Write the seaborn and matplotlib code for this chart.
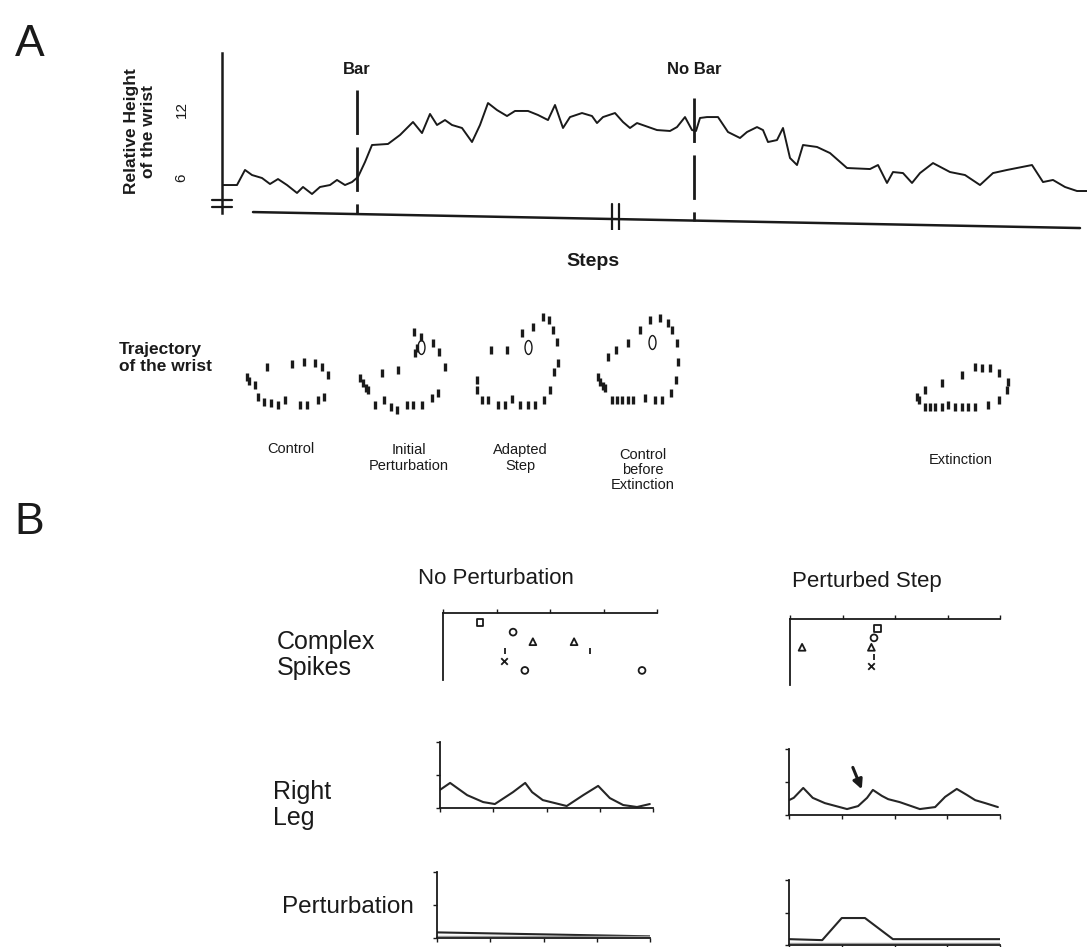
import numpy as np
import matplotlib
matplotlib.use("Agg")
import matplotlib.pyplot as plt
import matplotlib.transforms as mt
from matplotlib.path import Path
import seaborn as sns

# ---------------- data ----------------
# Panel A: wrist height across steps
steps = [0, 3, 4.6, 6, 8, 9.6, 11.2, 13, 15, 16.2, 18, 19.6, 21.6, 23, 24.6, 26, 27.2, 28.6,
         30, 33.2, 35.6, 38.2, 40, 41.6, 43, 44.6, 46, 48, 50, 51.6, 53.2, 55, 57, 58.6, 61.2,
         63.2, 65.2, 66.6, 68.2, 69.6, 72, 74, 75, 76.2, 78.6, 80.2, 81.6, 83, 87, 89.6, 91,
         92.6, 94, 94.8, 95.6, 97, 99.2, 101.2, 103.6, 105, 107, 108.2, 109.2, 111, 112.2,
         113.6, 115, 116.2, 119, 121.6, 125, 129.6, 131.2, 133, 134.2, 136.2, 138, 139.6,
         142.2, 145.6, 148.6, 151.6, 154.2, 157, 162, 164.2, 166.2, 168.6, 171, 173]
wrist_height = [5.39, 5.39, 6.70, 6.26, 6.0, 5.48, 5.91, 5.39, 4.70, 5.22, 4.61, 5.22, 5.39,
                5.83, 5.39, 5.65, 6.09, 7.39, 8.87, 8.96, 9.74, 10.87, 9.91, 11.57, 10.61,
                11.04, 10.61, 10.35, 9.13, 10.61, 12.52, 11.91, 11.39, 11.83, 11.83, 11.48,
                11.04, 12.35, 10.35, 11.30, 11.65, 11.39, 10.78, 11.30, 11.65, 10.87, 10.35,
                10.78, 10.17, 10.09, 10.43, 11.30, 10.17, 10.09, 11.22, 11.30, 11.30, 10.0,
                9.48, 10.0, 10.43, 10.17, 9.13, 9.30, 10.35, 7.74, 7.13, 8.87, 8.70, 8.17,
                6.87, 6.78, 7.13, 5.57, 6.52, 6.43, 5.57, 6.43, 7.30, 6.52, 6.26, 5.39, 6.43,
                6.70, 7.13, 5.65, 5.83, 5.22, 4.87, 4.87]
event_steps = [27, 94.4]
event_labels = ["Bar", "No Bar"]
y_ticks_a = [6, 12]

# Panel A: wrist trajectories (horizontal, vertical position; arbitrary units)
traj_names = ["Control", "Initial\nPerturbation", "Adapted\nStep",
              "Control\nbefore\nExtinction", "Extinction"]
traj_x = [
    [0, 2, 8, 20, 11, 17, 24, 31, 38, 45, 53, 60, 57, 68, 71, 75, 77, 81],
    [0, 3, 6, 8, 15, 22, 24, 31, 37, 38, 47, 53, 55, 57, 54, 61, 62, 72, 73, 78, 79, 85],
    [0, 0, 5, 14, 11, 21, 28, 30, 35, 43, 45, 51, 56, 58, 66, 67, 72, 73, 76, 77, 80, 81],
    [0, 2, 5, 7, 10, 14, 18, 19, 24, 30, 30, 35, 42, 47, 52, 57, 62, 64, 70, 74, 73, 79, 78, 80],
    [0, 2, 8, 25, 8, 13, 18, 25, 31, 38, 45, 45, 51, 58, 58, 65, 71, 73, 82, 82, 91, 90],
]
traj_y = [
    [28, 24, 20, 38, 8, 3, 2, 0, 5, 41, 0, 0, 43, 42, 5, 38, 8, 30],
    [27, 22, 17, 15, 0, 32, 5, -2, -5, 35, 0, 0, 52, 57, 73, 68, 0, 7, 62, 12, 53, 38],
    [25, 15, 5, 55, 5, 0, 0, 55, 6, 0, 72, 0, 78, 0, 88, 5, 85, 15, 75, 33, 63, 42],
    [28, 23, 19, 17, 48, 5, 55, 5, 5, 62, 5, 5, 75, 7, 85, 5, 87, 5, 82, 75, 12, 62, 25, 43],
    [10, 7, 17, 24, 0, 0, 0, 0, 2, 0, 32, 0, 0, 40, 0, 39, 2, 39, 34, 7, 25, 17],
]
loop_x = [None, 61, 51, 54, None]
loop_y = [None, 58, 58, 63, None]

# Panel B
phase_ticks = [0, 1, 2, 3, 4]
cs_nopert_phase = [0.69, 1.31, 1.68, 2.45, 1.16, 2.75, 1.14, 1.53, 3.72]
cs_nopert_trial = [1, 2, 3, 3, 4, 4, 5, 6, 6]
cs_pert_phase = [1.66, 1.60, 1.55, 0.23, 1.60, 1.55]
cs_pert_trial = [1, 2, 3, 3, 4, 5]
trial_markers = {1: "s", 2: "o", 3: "^", 4: "|", 5: "x", 6: "o"}

leg_nopert_phase = [0, 0.19, 0.51, 0.81, 1.03, 1.37, 1.60, 1.73, 1.93, 2.38, 2.69, 2.97,
                    3.19, 3.44, 3.70, 3.94]
leg_nopert_val = [0.55, 0.76, 0.39, 0.18, 0.12, 0.48, 0.76, 0.48, 0.24, 0.06, 0.39, 0.67,
                  0.30, 0.09, 0.03, 0.12]
leg_pert_phase = [0.0, 0.09, 0.27, 0.45, 0.68, 1.10, 1.31, 1.48, 1.59, 1.76, 1.88, 2.10,
                  2.48, 2.77, 2.96, 3.18, 3.37, 3.53, 3.72, 3.96]
leg_pert_val = [0.45, 0.52, 0.82, 0.52, 0.36, 0.18, 0.27, 0.52, 0.76, 0.58, 0.48, 0.39,
                0.18, 0.24, 0.55, 0.79, 0.61, 0.45, 0.36, 0.24]
pert_nopert_phase = [0, 4]
pert_nopert_val = [0.17, 0.05]
pert_pert_phase = [0, 0.63, 1.0, 1.44, 1.97, 4.0]
pert_pert_val = [0.18, 0.15, 0.83, 0.83, 0.18, 0.18]

# ---------------- figure ----------------
sns.set_theme(style="white")
plt.rcParams['font.family'] = ['Liberation Sans', 'DejaVu Sans']
plt.rcParams['text.color'] = 'k'
plt.rcParams['axes.labelcolor'] = 'k'
plt.rcParams['xtick.color'] = 'k'
plt.rcParams['ytick.color'] = 'k'
W, H = 1088, 947
fig = plt.figure(figsize=(W / 100, H / 100), dpi=100)


def axes_px(l, t, r, b):
    return fig.add_axes([l / W, 1 - b / H, (r - l) / W, (b - t) / H])


def ftext(x, y, s, **kw):
    fig.text(x / W, 1 - y / H, s, **kw)


# ---- Panel A main plot ----
ax = axes_px(222, 53, 1087, 230)
ax.set_facecolor('none')
sns.lineplot(x=steps, y=wrist_height, color='k', lw=1.4, ax=ax)
ax.set_xlim(0, 173)
ax.set_ylim(1.48, 16.87)
for s in ['top', 'right', 'bottom']:
    ax.spines[s].set_visible(False)
ax.spines['left'].set_bounds(2.96, 16.87)
ax.spines['left'].set_linewidth(1.8)
ax.spines['left'].set_color('k')
ax.set_xticks([])
ax.set_yticks(y_ticks_a)
ax.set_yticklabels([str(v) for v in y_ticks_a], rotation=90, va='center', fontsize=11)
ax.tick_params(axis='y', length=0, pad=24)

# sloped steps axis
x_axis_x = [6.2, 171.6]
x_axis_y = [3.04, 1.65]
ax.plot(x_axis_x, x_axis_y, color='k', lw=1.8, clip_on=False)
# axis break marks on steps axis
for bx in [78.0, 79.3]:
    yb = np.interp(bx, x_axis_x, x_axis_y)
    ax.plot([bx, bx], [yb - 1.0, yb + 1.3], color='k', lw=1.6)
# y-axis break marks
ax.plot([-2.0, 2.0], [4.13, 4.13], color='k', lw=1.6, clip_on=False)
ax.plot([-2.0, 2.0], [3.5, 3.5], color='k', lw=1.6, clip_on=False)

for s, lab, top in zip(event_steps, event_labels, [13.65, 12.96]):
    bottom = np.interp(s, x_axis_x, x_axis_y)
    ax.plot([s, s], [top, bottom], color='k', lw=2.0, ls=(0, (16, 4.5)))
    ax.text(s, 15.4, lab, ha='center', va='center', fontsize=12, fontweight='bold')

ftext(593, 262, "Steps", ha='center', va='center', fontsize=14, fontweight='bold')
ftext(140, 131, "Relative Height\nof the wrist", rotation=90, ha='center', va='center',
      fontsize=12.5, fontweight='bold', linespacing=1.2, multialignment='center')
ftext(30, 45, "A", ha='center', va='center', fontsize=32)
ftext(29, 522, "B", ha='center', va='center', fontsize=32)

# ---- Panel A trajectories ----
ftext(119, 358, "Trajectory\nof the wrist", ha='left', va='center', fontsize=12.5,
      fontweight='bold', linespacing=1.2)
traj_origin = [(247, 405), (360, 405), (477, 405), (598, 405), (917, 407)]
caption_pos = [(291, 449), (409, 458), (520, 458), (643, 470), (961, 460)]
ellipse = Path.unit_circle().transformed(mt.Affine2D().scale(0.5, 1.0))
for i in range(5):
    ox, oy = traj_origin[i]
    tax = axes_px(ox - 10, oy - 93, ox + 100, oy + 12)
    tax.set_xlim(-10, 100)
    tax.set_ylim(-12, 93)
    tax.axis('off')
    sns.scatterplot(x=traj_x[i], y=traj_y[i], marker='|', s=30, linewidth=2.4,
                    color='k', ax=tax, legend=False)
    if loop_x[i] is not None:
        tax.plot([loop_x[i]], [loop_y[i]], marker=ellipse, ms=10, mfc='none',
                 mec='k', mew=1.0, ls='none')
    cx, cy = caption_pos[i]
    ftext(cx, cy, traj_names[i], ha='center', va='center', fontsize=10.5,
          linespacing=1.1, multialignment='center')

# ---- Panel B ----
ftext(496, 578, "No Perturbation", ha='center', va='center', fontsize=16)
ftext(867, 582, "Perturbed Step", ha='center', va='center', fontsize=16)
ftext(277, 655, "Complex\nSpikes", ha='left', va='center', fontsize=18, linespacing=1.1)
ftext(273, 805, "Right\nLeg", ha='left', va='center', fontsize=18, linespacing=1.1)
ftext(282, 907, "Perturbation", ha='left', va='center', fontsize=17.5)


def style_small(a, top_axis=False):
    a.set_facecolor('none')
    a.set_xlim(0, 4)
    a.set_xticks(phase_ticks)
    a.set_xticklabels([])
    a.set_yticklabels([])
    for s in ['right']:
        a.spines[s].set_visible(False)
    if top_axis:
        a.spines['bottom'].set_visible(False)
        a.xaxis.tick_top()
        a.set_yticks([])
        a.tick_params(axis='x', direction='out', length=3, width=1, color='k', top=True)
    else:
        a.spines['top'].set_visible(False)
        a.tick_params(axis='both', direction='out', length=3, width=1, color='k',
                      bottom=True, left=True)
    for s in ['left', 'bottom', 'top']:
        a.spines[s].set_color('k')
        a.spines[s].set_linewidth(1.3)


# complex spikes rasters
for (l, t, r, b), ph, tr in [((443, 613, 657, 680), cs_nopert_phase, cs_nopert_trial),
                             ((790, 619, 1000, 685), cs_pert_phase, cs_pert_trial)]:
    a = axes_px(l, t, r, b)
    style_small(a, top_axis=True)
    a.set_ylim(7, 0)
    for trial, m in trial_markers.items():
        xs = [p for p, q in zip(ph, tr) if q == trial]
        ys = [q for q in tr if q == trial]
        if not xs:
            continue
        if m in ('x', '|'):
            sns.scatterplot(x=xs, y=ys, marker=m, s=22, linewidth=1.3, color='k', ax=a,
                            legend=False)
        else:
            sns.scatterplot(x=xs, y=ys, marker=m, s=24, linewidth=1.3, color='k',
                            edgecolor='k', facecolor='none', ax=a, legend=False)

# right leg traces
for (l, t, r, b), ph, val in [((440, 742, 653, 808), leg_nopert_phase, leg_nopert_val),
                              ((789, 749, 1000, 815), leg_pert_phase, leg_pert_val)]:
    a = axes_px(l, t, r, b)
    style_small(a)
    a.set_ylim(0, 2)
    a.set_yticks([0, 1, 2])
    sns.lineplot(x=ph, y=val, color='0.15', lw=1.5, ax=a)
    if ph is leg_pert_phase:
        a.annotate('', xy=(1.40, 0.70), xytext=(1.19, 1.52),
                   arrowprops=dict(arrowstyle='-|>', lw=2.2, color='k', mutation_scale=14))

# perturbation traces
for (l, t, r, b), ph, val in [((437, 872, 650, 938), pert_nopert_phase, pert_nopert_val),
                              ((789, 880, 1000, 945), pert_pert_phase, pert_pert_val)]:
    a = axes_px(l, t, r, b)
    style_small(a)
    a.set_ylim(0, 2)
    a.set_yticks([0, 1, 2])
    sns.lineplot(x=ph, y=val, color='0.15', lw=1.5, ax=a)
    a.axhline(0.07, color='0.6', lw=1.0)

fig.savefig("out.png", dpi=100)
